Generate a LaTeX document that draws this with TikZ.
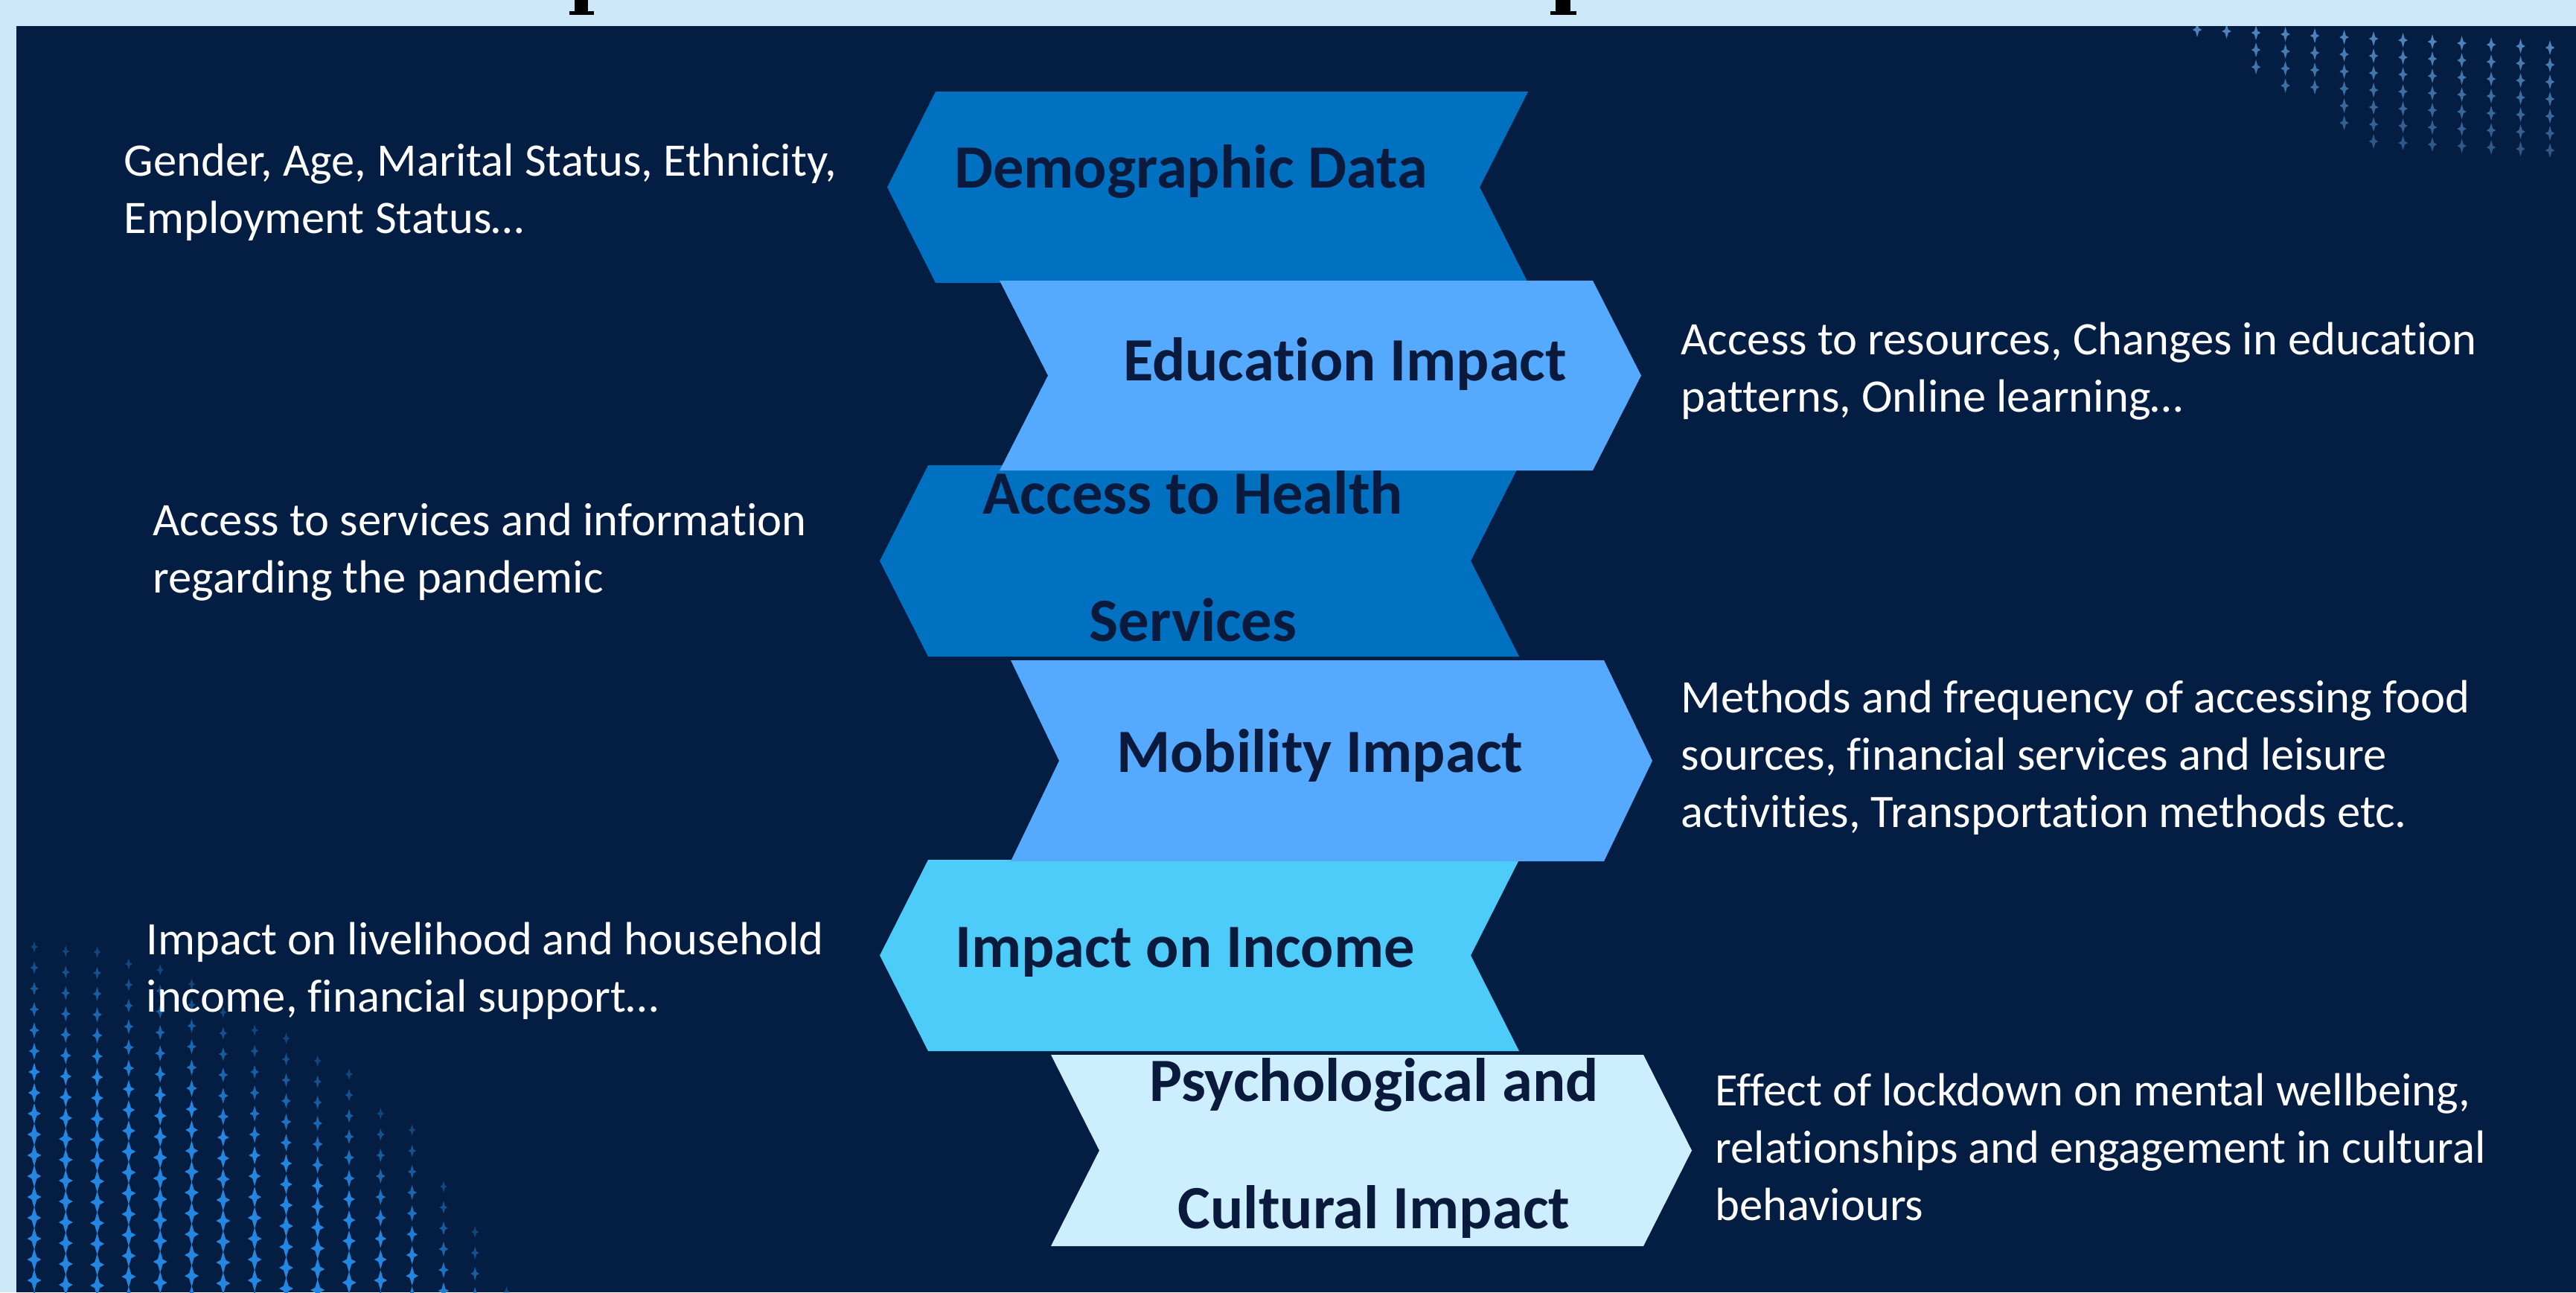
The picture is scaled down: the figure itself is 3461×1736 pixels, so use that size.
\documentclass[tikz,border=0pt]{standalone}
\usepackage{fontspec}
\setmainfont{Carlito}[Ligatures={NoCommon}]
\definecolor{bg}{RGB}{4,29,66}
\definecolor{framec}{RGB}{204,232,248}
\definecolor{cdark}{RGB}{0,112,192}
\definecolor{cmid}{RGB}{85,170,255}
\definecolor{ccyan}{RGB}{77,204,250}
\definecolor{cpale}{RGB}{204,238,255}
\definecolor{labtext}{RGB}{10,26,60}
\definecolor{dotblue}{RGB}{35,135,225}
\definecolor{dotgrey}{RGB}{90,150,210}
\newcommand\chevronL[5]{\fill[#5] ({#1+65},#3) -- (#2,#3) -- ({#2-65},{(#3+#4)/2}) -- (#2,#4) -- ({#1+65},#4) -- (#1,{(#3+#4)/2}) -- cycle;}
\newcommand\chevronR[5]{\fill[#5] (#1,#3) -- ({#2-65},#3) -- (#2,{(#3+#4)/2}) -- ({#2-65},#4) -- (#1,#4) -- ({#1+65},{(#3+#4)/2}) -- cycle;}
\newcommand\starmark{(0,-11) -- (2.5,-2.5) -- (7,0) -- (2.5,2.5) -- (0,11) -- (-2.5,2.5) -- (-7,0) -- (-2.5,-2.5) -- cycle}
\tikzset{
  lab/.style={font=\fontsize{23.5}{48.5}\selectfont\bfseries, text=labtext, align=center, inner sep=0pt, anchor=base},
  desc/.style={font=\fontsize{17.8}{21.8}\selectfont, text=white, align=left, inner sep=0pt, anchor=base west}
}
\begin{document}
\begin{tikzpicture}[x=0.01cm,y=-0.01cm]
\useasboundingbox (0,0) rectangle (3461,1736);
% frame and background
\fill[framec] (0,0) rectangle (3461,1736);
\fill[bg] (22,35) rectangle (3461,1736);
% cut-off title fragments
\fill[black] (772,0) rectangle (790,17);
\fill[black] (765,15) rectangle (798,20);
\fill[black] (2090,0) rectangle (2110,17);
\fill[black] (2083,15) rectangle (2118,20);
% dot patterns
\begin{scope}
\clip (22,35) rectangle (3461,1736);
\foreach \i/\s in {0/1272,1/1272,2/1279,3/1289,4/1303,5/1316,6/1360,7/1378,8/1395,9/1419,10/1443,11/1490,12/1518,13/1588,14/1655,15/1730}{
  \pgfmathsetmacro\xx{46+42.3*\i}
  \foreach \r in {0,...,17}{
    \pgfmathsetmacro\yy{\s+28*\r+mod(\i,2)*6}
    \pgfmathsetmacro\o{min(1,0.4+0.1*\r)}
    \pgfmathsetmacro\k{min(1.35,0.7+0.07*\r)}
    \fill[dotblue,opacity=\o,shift={(\xx,\yy)},scale=\k] \starmark;
  }
}
\foreach \i/\b in {0/40,1/60,2/102,3/118,4/137,5/173,6/188,7/198,8/207,9/213,10/217,11/220,12/218}{
  \pgfmathsetmacro\xx{2952+39.5*\i}
  \foreach \r in {0,...,8}{
    \pgfmathsetmacro\yy{40+23*\r+2*\i}
    \pgfmathtruncatemacro\ok{(\yy<=\b+2)}
    \ifnum\ok=1
      \pgfmathsetmacro\o{max(0.35,0.85-0.06*\r)}
      \fill[dotgrey,opacity=\o,shift={(\xx,\yy)},scale=0.9] \starmark;
    \fi
  }
}
\end{scope}
% chevrons (left-pointing first, right-pointing on top)
\chevronL{1192}{2053}{123}{380}{cdark}
\chevronL{1182}{2041}{625}{882}{cdark}
\chevronL{1182}{2041}{1155}{1412}{ccyan}
\chevronR{1343}{2205}{377}{632}{cmid}
\chevronR{1358}{2220}{887}{1157}{cmid}
\chevronR{1412}{2273}{1417}{1674}{cpale}
% labels (multi-line nodes: base = last line)
\node[lab] (demo) at (1600,252) {Demographic Data};
\node[lab] (edu) at (1807,511) {Education Impact};
\node[lab] (health) at (1603,861) {Access to Health\\Services};
\node[lab] (mob) at (1773,1037) {Mobility Impact};
\node[lab] (inc) at (1592,1299) {Impact on Income};
\node[lab] (psy) at (1846,1650) {Psychological and\\Cultural Impact};
% descriptions
\node[desc] (d1) at (166,313) {Gender, Age, Marital Status, Ethnicity,\\Employment Status…};
\node[desc] (d2) at (2258,553) {Access to resources, Changes in education\\patterns, Online learning…};
\node[desc] (d3) at (205,796) {Access to services and information\\regarding the pandemic};
\node[desc] (d4) at (2258,1111) {Methods and frequency of accessing food\\sources, financial services and leisure\\activities, Transportation methods etc.};
\node[desc] (d5) at (196,1359) {Impact on livelihood and household\\income, financial support…};
\node[desc] (d6) at (2304,1639) {Effect of lockdown on mental wellbeing,\\relationships and engagement in cultural\\behaviours};
\end{tikzpicture}
\end{document}
